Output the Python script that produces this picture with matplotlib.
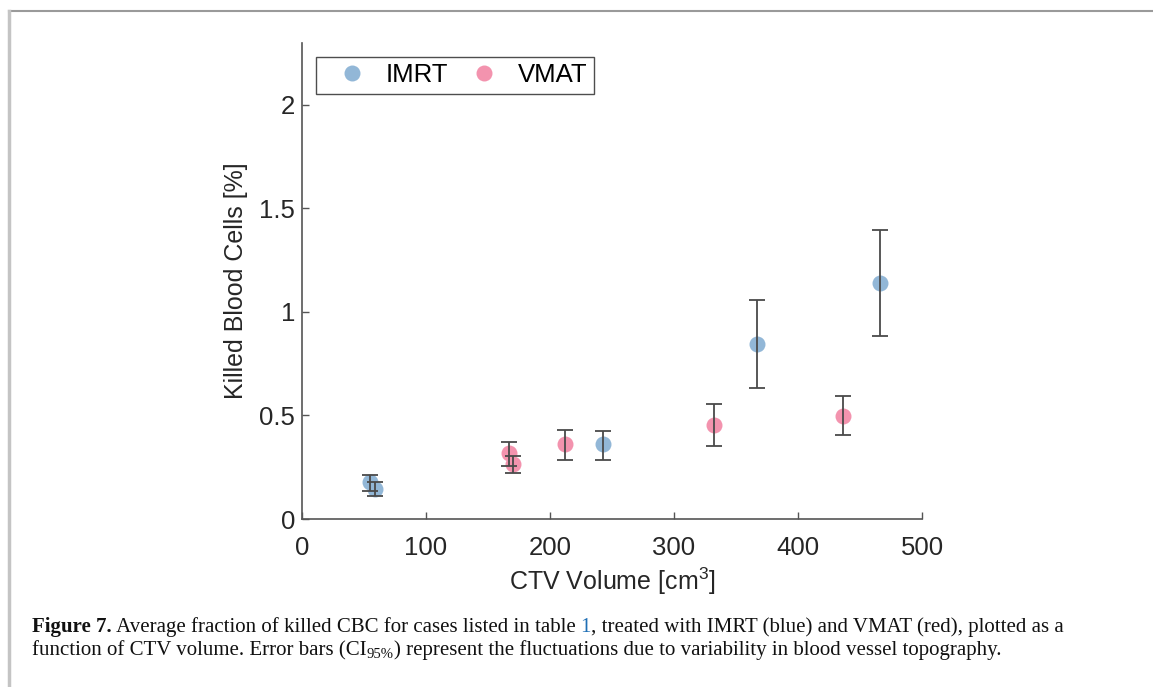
import numpy as np
import matplotlib
matplotlib.use("Agg")
import matplotlib.pyplot as plt
from matplotlib.lines import Line2D

plt.rcParams['font.family'] = ['Liberation Sans', 'DejaVu Sans']
plt.rcParams['mathtext.fontset'] = 'custom'
plt.rcParams['mathtext.rm'] = 'Liberation Sans'
plt.rcParams['mathtext.it'] = 'Liberation Sans:italic'

# IMRT cases
imrt_vol = [55, 59, 243, 367, 466]
imrt_kill = [0.178, 0.145, 0.36, 0.843, 1.142]
imrt_lo = [0.135, 0.109, 0.286, 0.631, 0.885]
imrt_hi = [0.215, 0.178, 0.427, 1.057, 1.398]

# VMAT cases
vmat_vol = [167, 170, 212, 332, 436]
vmat_kill = [0.317, 0.264, 0.36, 0.453, 0.496]
vmat_lo = [0.257, 0.223, 0.283, 0.352, 0.405]
vmat_hi = [0.374, 0.305, 0.43, 0.554, 0.593]

blue = '#92b7d7'
pink = '#f393ae'
ecol = '#4a4a4a'

fig = plt.figure(figsize=(11.53, 6.87), dpi=100)
ax = fig.add_axes([0.2619, 0.2445, 0.5378, 0.6933])

for vol, kill, lo, hi, c, lab in [(imrt_vol, imrt_kill, imrt_lo, imrt_hi, blue, 'IMRT'),
                                  (vmat_vol, vmat_kill, vmat_lo, vmat_hi, pink, 'VMAT')]:
    vol = np.array(vol); kill = np.array(kill)
    yerr = [kill - np.array(lo), np.array(hi) - kill]
    ax.plot(vol, kill, 'o', ms=11.5, color=c, mec='none', label=lab, zorder=2)
    ax.errorbar(vol, kill, yerr=yerr, fmt='none', ecolor=ecol, elinewidth=1.3,
                capsize=6, capthick=1.3, zorder=3)

ax.set_xlim(0, 500)
ax.set_ylim(0, 2.3)
ax.set_xticks([0, 100, 200, 300, 400, 500])
ax.set_yticks([0, 0.5, 1, 1.5, 2])
ax.set_yticklabels(['0', '0.5', '1', '1.5', '2'])
for s in ['top', 'right']:
    ax.spines[s].set_visible(False)
for s in ['left', 'bottom']:
    ax.spines[s].set_color('#555555')
    ax.spines[s].set_linewidth(1.2)
ax.tick_params(direction='in', length=5, width=1, colors='#555555',
               labelcolor='#262626', labelsize=18.5)
ax.tick_params(axis='x', pad=12)
ax.tick_params(axis='y', pad=5)
ax.set_xlabel('CTV Volume [cm$^{3}$]', fontsize=18, color='#262626', labelpad=4)
ax.set_ylabel('Killed Blood Cells [%]', fontsize=18, color='#262626', labelpad=8)

leg = ax.legend(loc='upper left', bbox_to_anchor=(0.0226, 0.970), ncol=2,
                fontsize=18.5, frameon=True, fancybox=False, handlelength=2.3,
                handletextpad=0.16, columnspacing=0.25, borderpad=0.25,
                borderaxespad=0, edgecolor='#222222')
leg.get_frame().set_linewidth(1.0)

# page frame lines
fig.add_artist(Line2D([9/1153, 1], [1 - 11/687, 1 - 11/687], color='#9a9a9a', lw=1.5))
fig.add_artist(Line2D([9/1153, 9/1153], [0, 1 - 11/687], color='#c4c4c4', lw=2.5))

# caption, built from pieces
fig.canvas.draw()
r = fig.canvas.get_renderer()
serif = ['Liberation Serif', 'DejaVu Serif']


def put(x, y, s, size=15, color='#111111', **kw):
    t = fig.text(x, y, s, family=serif, fontsize=size, color=color,
                 ha='left', va='baseline', transform=None, **kw)
    return t.get_window_extent(r).x1


y1 = 687 - 632
x = put(32, y1, 'Figure 7.', weight='bold')
x = put(x, y1, ' Average fraction of killed CBC for cases listed in table ')
x = put(x, y1, '1', color='#1f6fb5')
put(x, y1, ', treated with IMRT (blue) and VMAT (red), plotted as a')

y2 = 687 - 655
x = put(32, y2, 'function of CTV volume. Error bars (CI')
x = put(x, y2 - 3, '95%', size=10.5)
put(x, y2, ') represent the fluctuations due to variability in blood vessel topography.')

fig.savefig('out.png', dpi=100)
